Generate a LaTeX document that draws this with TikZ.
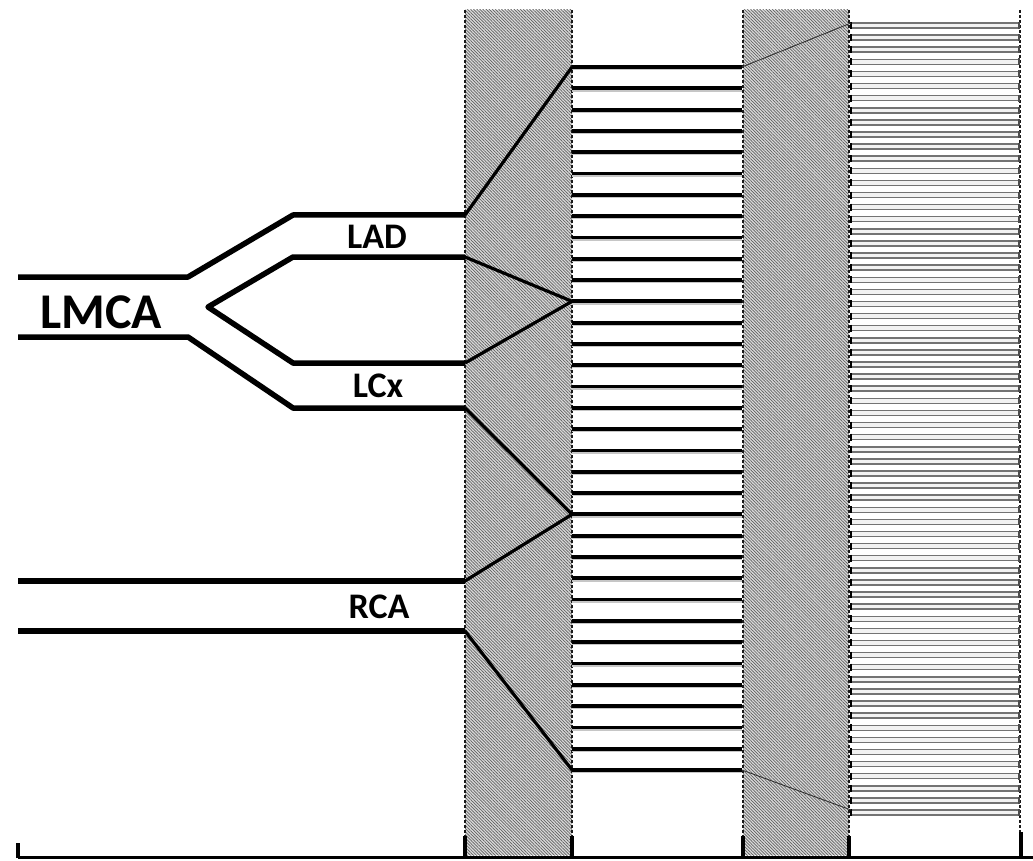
\documentclass[tikz,border=0pt]{standalone}
\usepackage{fontspec}
\setmainfont{Carlito}
\usetikzlibrary{patterns.meta}
\begin{document}
\begin{tikzpicture}[x=1pt,y=-1pt,
  vessel/.style={line width=5.5pt,black,line join=round},
  inner/.style={line width=3.2pt,black,line join=round},
  midline/.style={line width=3.8pt,black},
  midshadow/.style={line width=1.5pt,gray!45},
  tube/.style={draw=black!55,line width=1.5pt,fill=gray!10},
  tubetick/.style={line width=1.6pt,black},
  thin/.style={line width=0.9pt,gray!40!black},
  band/.style={fill=gray!30,pattern={Lines[angle=-45,distance=2.2pt,line width=0.7pt]},pattern color=gray!75!black},
  bandfill/.style={fill=gray!30},
  dashv/.style={line width=1.1pt,dash pattern=on 3pt off 2pt,gray!20!black},
  axis/.style={line width=3pt,black},
  axtick/.style={line width=3.5pt,black},
  lbl/.style={font=\bfseries\fontsize{36}{36}\selectfont,inner sep=0pt},
  biglbl/.style={font=\bfseries\fontsize{50}{50}\selectfont,inner sep=0pt}
]
\useasboundingbox (0,0) rectangle (1033,861);
% hatched bands
\fill[bandfill] (465,10) rectangle (572,855);
\fill[band] (465,10) rectangle (572,855);
\fill[bandfill] (743,10) rectangle (849,855);
\fill[band] (743,10) rectangle (849,855);
% dashed band borders
\foreach \xx/\nm in {465/da,572/db,743/dc,849/dd,1020/de}{
  \coordinate (\nm t) at (\xx,10);
  \coordinate (\nm b) at (\xx,836);
  \draw[dashv] (\nm t) -- (\nm b);
}
% middle band lines
\foreach \i in {0,...,33}{
  \pgfmathsetmacro\yy{67+703/33*\i}
  \coordinate (m\i) at (572,\yy);
  \coordinate (n\i) at (742,\yy);
  \draw[midshadow] ([yshift=-2.5pt]m\i) -- ([yshift=-2.5pt]n\i);
  \draw[midline] (m\i) -- (n\i);
}
% right band tubes
\foreach \i in {0,...,65}{
  \pgfmathsetmacro\yy{23+787/65*\i}
  \coordinate (r\i) at (851,\yy);
  \filldraw[tube] (r\i) rectangle (1019,\yy+5);
  \draw[tubetick] (851,\yy-1) -- (851,\yy+6);
  \draw[line width=1.2pt,black!70] (1019,\yy-1) -- (1019,\yy+6);
}
% thin connectors across second band
\draw[thin] (n0) -- (r0);
\draw[thin] (n33) -- (r65);
% vessel coordinates
\coordinate (a1) at (18,277);   \coordinate (a2) at (188,277);
\coordinate (a3) at (293,215);  \coordinate (a4) at (465,215);
\coordinate (b1) at (208,307);  \coordinate (b2) at (293,257);
\coordinate (b3) at (465,257);
\coordinate (c2) at (293,363);  \coordinate (c3) at (465,363);
\coordinate (d1) at (18,337);   \coordinate (d2) at (188,337);
\coordinate (d3) at (293,408);  \coordinate (d4) at (465,408);
\coordinate (e1) at (18,581);   \coordinate (e2) at (465,581);
\coordinate (f1) at (18,631);   \coordinate (f2) at (465,631);
% vessels
\draw[vessel] (a1) -- (a2) -- (a3) -- (a4);
\draw[vessel] (b3) -- (b2) -- (b1) -- (c2) -- (c3);
\draw[vessel] (d1) -- (d2) -- (d3) -- (d4);
\draw[vessel] (e1) -- (e2);
\draw[vessel] (f1) -- (f2);
% connectors in first band
\draw[inner] (a4) -- (m0);
\draw[inner] (b3) -- (m11);
\draw[inner] (c3) -- (m11);
\draw[inner] (d4) -- (m21);
\draw[inner] (e2) -- (m21);
\draw[inner] (f2) -- (m33);
% labels
\node[biglbl] (lmca) at (101,312) {LMCA};
\node[lbl] (lad) at (377,237) {LAD};
\node[lbl] (lcx) at (378,386) {LCx};
\node[lbl] (rca) at (379,607) {RCA};
% axis
\coordinate (x0) at (18,857);
\coordinate (x1) at (1033,857);
\draw[axis] (x0) -- (x1);
\draw[axtick] (18,858) -- (18,843);
\foreach \xx in {465,572,743,849}{\draw[axtick] (\xx,858) -- (\xx,836);}
\draw[axtick] (1021,858) -- (1021,832);
\end{tikzpicture}
\end{document}
